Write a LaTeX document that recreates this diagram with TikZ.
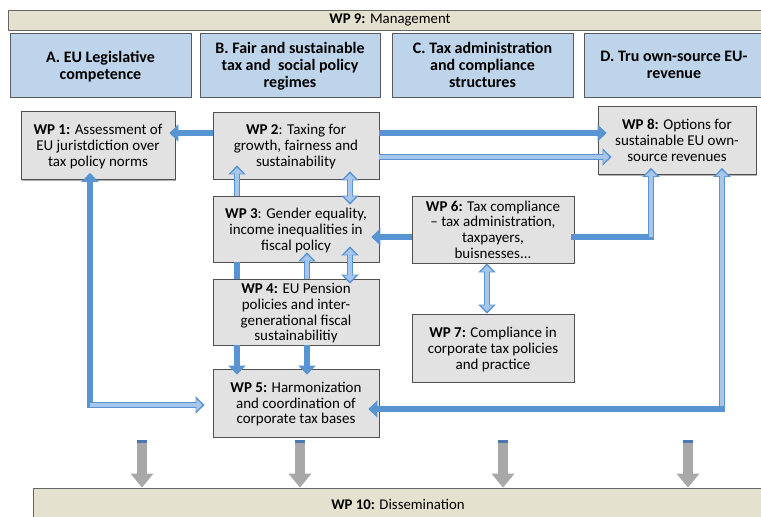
\documentclass[tikz,border=0pt]{standalone}
\usepackage{fontspec}
\setmainfont{Carlito}
\usetikzlibrary{arrows.meta,shadows}
\definecolor{beige}{HTML}{E5E1CF}
\definecolor{catblue}{HTML}{BED4EA}
\definecolor{boxgray}{HTML}{E2E2E2}
\definecolor{bordergray}{HTML}{505050}
\definecolor{arrblue}{HTML}{5893D2}
\definecolor{arrlight}{HTML}{A6C6EC}
\definecolor{arrdark}{HTML}{4A78B5}
\definecolor{grayarr}{HTML}{A8A8A8}
\tikzset{
  shad/.style={drop shadow={shadow xshift=1.2pt, shadow yshift=-1.2pt, opacity=0.3, fill=black}},
  bar/.style={draw=gray!80!black, fill=beige, line width=0.8pt, inner sep=0pt,
    font=\fontsize{14.8}{16}\selectfont},
  cat/.style={draw=gray!70!black, fill=catblue, line width=0.8pt, inner sep=0pt, shad,
    align=center, minimum height=64pt, text depth=0pt, font=\bfseries\fontsize{16}{16.8}\selectfont},
  wpbox/.style={draw=bordergray, fill=boxgray, line width=0.8pt, inner sep=0pt, shad,
    align=center, text depth=0pt, font=\fontsize{15}{15.8}\selectfont},
  sarr/.style={draw=arrblue, line width=6.5pt, -{Triangle[width=17pt,length=9pt]}},
  shaft/.style={draw=arrblue, line width=6.5pt},
  larr/.style={preaction={draw=arrblue, line width=6.5pt, -{Triangle[width=17pt,length=9pt]}, shorten >=#1},
    draw=arrlight, line width=3.4pt, -{Triangle[width=11.5pt,length=6pt]}, shorten >=#1+2.2pt},
  dlarr/.style 2 args={preaction={draw=arrblue, line width=6.5pt,
      {Triangle[width=17pt,length=9pt]}-{Triangle[width=17pt,length=9pt]}, shorten <=#1, shorten >=#2},
    draw=arrlight, line width=3.4pt,
    {Triangle[width=11.5pt,length=6pt]}-{Triangle[width=11.5pt,length=6pt]},
    shorten <=#1+2.2pt, shorten >=#2+2.2pt},
  garr/.style={draw=grayarr, line width=10pt, -{Triangle[width=22pt,length=14pt]}},
}
\begin{document}
\begin{tikzpicture}[x=1pt,y=-1pt]
\useasboundingbox (0,0) rectangle (761,517);
\clip (0,0) rectangle (761,517);

% bars
\node[bar, minimum width=764pt, minimum height=20pt] (wp9) at (390,20) {\textbf{WP 9:} Management};
\node[bar, minimum width=730pt, minimum height=32pt] (wp10) at (398,504) {\textbf{WP 10:} Dissemination};

% category boxes
\node[cat, minimum width=181pt] (ca) at (100.5,65) {A. EU Legislative\\competence};
\node[cat, minimum width=180pt] (cb) at (290,65) {B. Fair and sustainable\\tax and\ \ social policy\\regimes};
\node[cat, minimum width=181pt] (cc) at (482.5,65) {C. Tax administration\\and compliance\\structures};
\node[cat, minimum width=180pt] (cd) at (674,65) {D. Tru own-source EU-\\revenue};

% work packages
\node[wpbox, minimum width=154pt, minimum height=68pt] (wp1) at (98,145.5) {\textbf{WP 1:} Assessment of\\EU juristdiction over\\tax policy norms};
\node[wpbox, minimum width=166pt, minimum height=67pt] (wp2) at (296,145.5) {\textbf{WP 2}: Taxing for\\growth, fairness and\\sustainability};
\node[wpbox, minimum width=158pt, minimum height=68pt] (wp8) at (677,140.5) {\textbf{WP 8:} Options for\\sustainable EU own-\\source revenues};
\node[wpbox, minimum width=166pt, minimum height=66pt] (wp3) at (296,229) {\textbf{WP 3}: Gender equality,\\income inequalities in\\fiscal policy};
\node[wpbox, minimum width=162pt, minimum height=67pt] (wp6) at (493,229.5) {\textbf{WP 6:} Tax compliance\\– tax administration,\\taxpayers,\\buisnesses...};
\node[wpbox, minimum width=166pt, minimum height=66pt] (wp4) at (296,312) {\textbf{WP 4:} EU Pension\\policies and inter-\\generational fiscal\\sustainabilitiy};
\node[wpbox, minimum width=162pt, minimum height=68pt] (wp7) at (493,348) {\textbf{WP 7:} Compliance in\\corporate tax policies\\and practice};
\node[wpbox, minimum width=166pt, minimum height=68pt] (wp5) at (296,403) {\textbf{WP 5:} Harmonization\\and coordination of\\corporate tax bases};

% helper coordinates
\coordinate (r133) at (0,133);
\coordinate (r157) at (0,157);
\coordinate (r237) at (0,237);
\coordinate (r405) at (0,405);
\coordinate (r409) at (0,409);
\coordinate (c90) at (90,0);
\coordinate (c237) at (237,0);
\coordinate (c307) at (307,0);
\coordinate (c350) at (350,0);
\coordinate (c487) at (487,0);
\coordinate (c651) at (651,0);
\coordinate (c722) at (722,0);
\coordinate (k1) at (c90 |- r405);
\coordinate (k2) at (c722 |- r409);
\coordinate (k3) at (c651 |- r237);

% blue connectors
\draw[sarr, shorten >=-6pt] (wp2.west |- r133) -- (wp1.east |- r133);
\draw[sarr, shorten >=-9pt] (wp2.east |- r133) -- (wp8.west |- r133);
\draw[larr=-14pt] (wp2.east |- r157) -- (wp8.west |- r157);
\draw[larr=-14pt] (c237 |- wp3.north) -- (c237 |- wp2.south);
\draw[shaft] (c237 |- wp3.south) -- (c237 |- wp4.north);
\draw[sarr, shorten >=-6pt] (c237 |- wp4.south) -- (c237 |- wp5.north);
\draw[sarr, shorten >=-6pt] (c307 |- wp4.south) -- (c307 |- wp5.north);
\draw[larr=-10pt] (c307 |- wp4.north) -- (c307 |- wp3.south);
\draw[dlarr={-8pt}{-9pt}] (c350 |- wp2.south) -- (c350 |- wp3.north);
\draw[dlarr={-16pt}{-5pt}] (c350 |- wp3.south) -- (c350 |- wp4.north);
\draw[sarr, shorten >=-8pt] (wp6.west |- r237) -- (wp3.east |- r237);
\draw[shaft, line cap=rect] (wp6.east |- r237) -- (k3);
\draw[larr=-7pt] (k3) -- (c651 |- wp8.south);
\draw[dlarr={0pt}{0pt}] (c487 |- wp6.south) -- (c487 |- wp7.north);
\draw[sarr, shorten >=-7pt, line cap=rect] (k1) -- (c90 |- wp1.south);
\draw[larr=8pt] (k1) -- (wp5.west |- r405);
\draw[larr=-7pt, line cap=rect] (k2) -- (c722 |- wp8.south);
\draw[sarr, shorten >=-11pt, line cap=rect] (k2) -- (wp5.east |- r409);

% grey arrows to dissemination
\foreach \n/\x in {g1/142, g2/300, g3/503, g4/688}{
  \coordinate (\n) at (\x,440);
  \draw[garr] (\n) -- (\n |- wp10.north);
  \fill[arrdark] ([xshift=-5pt]\n) rectangle ([xshift=5pt,yshift=-3pt]\n);
}
\end{tikzpicture}
\end{document}
